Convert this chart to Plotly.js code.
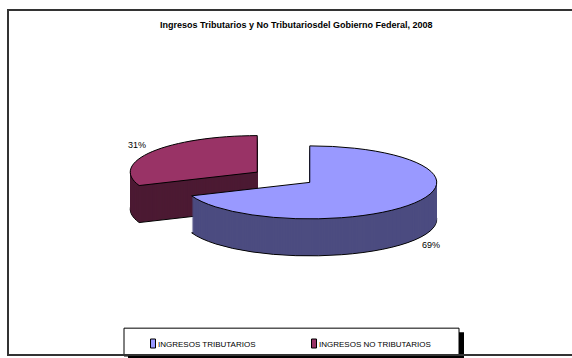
<!DOCTYPE html>
<html>
<head>
<meta charset="utf-8">
<script src="https://cdn.plot.ly/plotly-3.0.1.min.js"></script>
<style>
html,body{margin:0;padding:0;background:#fff;}
#chart{width:572px;height:358px;}
</style>
</head>
<body>
<div id="chart"></div>
<script>
// ---- data ----
const chartTitle = 'Ingresos Tributarios y No Tributariosdel Gobierno Federal, 2008';
const categories = ['INGRESOS TRIBUTARIOS', 'INGRESOS NO TRIBUTARIOS'];
const values = [69, 31];
const topColors = ['#9999FF', '#993366'];
const sideColors = ['#4C4C80', '#4C1A33'];

// ---- geometry of the 3D look (layout only) ----
const W = 572, H = 358;
const depth = 37;          // px of extrusion
const center = [283.5, 177.25]; // unexploded centre of top face
const rx = 127, ry = 36.5;
const pullFrac = 0.25;
const TR = 'rgba(0,0,0,0)';

const traces = [];
const layerDy = [];
function pieTrace(colors, lineColors, lineWidth, showlegend) {
  return {
    type: 'pie', labels: categories, values: values, sort: false,
    direction: 'clockwise', rotation: 0, pull: [pullFrac, pullFrac],
    textinfo: 'none', hoverinfo: 'skip', showlegend: showlegend,
    marker: {colors: colors, line: {color: lineColors, width: lineWidth}},
    domain: {x: [0.2, 0.8], y: [0.2, 0.8]}
  };
}
// side walls: back slice (index 1) first, then front slice (index 0)
[1, 0].forEach(function (idx) {
  for (let d = depth; d >= 1; d--) {
    const cols = [TR, TR]; cols[idx] = sideColors[idx];
    const lc = [TR, TR]; if (d === depth) lc[idx] = '#000';
    traces.push(pieTrace(cols, lc, d === depth ? 1 : 0, false));
    layerDy.push(d);
  }
});
// top faces
traces.push(pieTrace(topColors, ['#000', '#000'], 1, true));
layerDy.push(0);

const total = values.reduce((a, b) => a + b, 0);
const pctLabels = values.map(v => Math.round(v / total * 100) + '%');
const labelPos = [[431, 246], [137, 146]];

const annotations = [{
  text: '<b>' + chartTitle + '</b>', xref: 'paper', yref: 'paper',
  x: 296 / W, y: 1 - 25 / H, xanchor: 'center', yanchor: 'middle', showarrow: false,
  font: {family: 'Liberation Sans, Arial, sans-serif', size: 9, color: '#000'}
}];
pctLabels.forEach(function (t, i) {
  annotations.push({
    text: t, xref: 'paper', yref: 'paper', x: labelPos[i][0] / W, y: 1 - labelPos[i][1] / H,
    xanchor: 'center', yanchor: 'middle', showarrow: false,
    font: {family: 'Liberation Sans, Arial, sans-serif', size: 9, color: '#000'}
  });
});

function px(x) { return x / W; }
function py(y) { return 1 - y / H; }
const shapes = [
  {type: 'rect', xref: 'paper', yref: 'paper', x0: px(128), x1: px(464), y0: py(334), y1: py(362),
   fillcolor: '#000', line: {width: 0}, layer: 'above'},
  {type: 'rect', xref: 'paper', yref: 'paper', x0: px(124), x1: px(459), y0: py(330), y1: py(358),
   fillcolor: '#fff', line: {color: '#000', width: 1}, layer: 'above'},
  {type: 'rect', xref: 'paper', yref: 'paper', x0: px(8), x1: px(590), y0: py(10), y1: py(357),
   fillcolor: 'rgba(0,0,0,0)', line: {color: '#333', width: 2}, layer: 'above'}
];

const layout = {
  width: W, height: H, margin: {l: 0, r: 0, t: 0, b: 0},
  paper_bgcolor: '#fff', showlegend: true,
  legend: {orientation: 'h', x: px(118), y: py(331), xanchor: 'left', yanchor: 'top',
           bgcolor: 'rgba(0,0,0,0)', borderwidth: 0, entrywidth: 116, traceorder: 'normal',
           font: {family: 'Liberation Sans, Arial, sans-serif', size: 8, color: '#000'}},
  annotations: annotations, shapes: shapes
};

Plotly.newPlot('chart', traces, layout, {staticPlot: true, responsive: false}).then(function (gd) {
  const groups = gd.querySelectorAll('.pielayer g.trace');
  groups.forEach(function (g, i) {
    const cd0 = gd.calcdata[i][0];
    const sx = rx / cd0.r, sy = ry / cd0.r;
    g.setAttribute('transform',
      'translate(' + center[0] + ',' + (center[1] + layerDy[i]) + ') scale(' + sx + ',' + sy + ') translate(' + (-cd0.cx) + ',' + (-cd0.cy) + ')');
    g.querySelectorAll('path').forEach(function (p) { p.style.vectorEffect = 'non-scaling-stroke'; });
  });
  gd.querySelectorAll('.legend .legendpoints path').forEach(function (p) {
    p.setAttribute('d', 'M12.5,-4.5h5v9h-5z');
  });
});
</script>
</body>
</html>
